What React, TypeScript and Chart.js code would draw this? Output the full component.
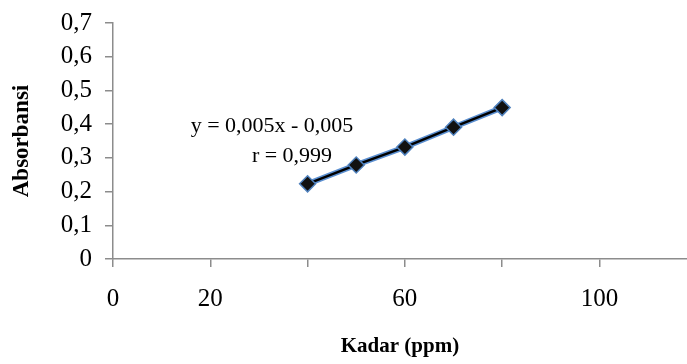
import React, { useEffect, useRef } from "react";
import { Chart, registerables } from "chart.js";

Chart.register(...registerables);

const kadar = [40, 50, 60, 70, 80];
const absorbansi = [0.223, 0.279, 0.332, 0.391, 0.449];
const xTicks = [0, 20, 40, 60, 80, 100];
const xTickLabels = ["0", "20", "", "60", "", "100"];
const yTicks = [0, 0.1, 0.2, 0.3, 0.4, 0.5, 0.6, 0.7];
const yTickLabels = ["0", "0,1", "0,2", "0,3", "0,4", "0,5", "0,6", "0,7"];
const equationLines = ["y = 0,005x - 0,005", "r = 0,999"];
const xTitle = "Kadar (ppm)";
const yTitle = "Absorbansi";

const FONT = "'Liberation Serif', 'Times New Roman', serif";

const equationPlugin = {
  id: "equation",
  afterDatasetsDraw(chart: any) {
    const ctx = chart.ctx;
    ctx.save();
    ctx.fillStyle = "#000";
    ctx.font = `22px ${FONT}`;
    ctx.textAlign = "center";
    ctx.textBaseline = "middle";
    ctx.fillText(equationLines[0], 272, 126);
    ctx.fillText(equationLines[1], 292, 156);
    ctx.restore();
  },
};

export default function App() {
  const ref = useRef<HTMLCanvasElement | null>(null);
  useEffect(() => {
    if (!ref.current) return;
    const points = kadar.map((x, i) => ({ x, y: absorbansi[i] }));
    const chart = new Chart(ref.current, {
      type: "scatter",
      data: {
        datasets: [
          {
            label: "Absorbansi",
            data: points,
            showLine: true,
            borderColor: "#000",
            borderWidth: 2.5,
            pointStyle: "rectRot",
            pointRadius: 8,
            pointBackgroundColor: "#111",
            pointBorderColor: "#4F81BD",
            pointBorderWidth: 1.5,
            order: 0,
          },
          {
            label: "outline",
            data: points,
            showLine: true,
            borderColor: "#5B8FD0",
            borderWidth: 5.5,
            pointRadius: 0,
            order: 1,
          },
        ],
      },
      options: {
        responsive: false,
        animation: false,
        layout: { autoPadding: false, padding: { top: 23, right: 0, left: 0, bottom: 0 } },
        plugins: { legend: { display: false }, tooltip: { enabled: false } },
        scales: {
          x: {
            type: "linear",
            min: 0,
            max: 118,
            afterBuildTicks: (scale: any) => {
              scale.ticks = xTicks.map((value) => ({ value }));
            },
            afterFit: (scale: any) => {
              scale.height = 105;
              scale.paddingLeft = 0;
              scale.paddingRight = 0;
            },
            grid: { drawOnChartArea: false, drawTicks: true, tickLength: 8, color: "#8c8c8c", lineWidth: 1.5 },
            border: { color: "#8c8c8c", width: 1.5 },
            ticks: {
              autoSkip: false,
              maxRotation: 0,
              padding: 17,
              color: "#000",
              font: { family: FONT, size: 25 },
              callback: (value: any) => {
                const i = xTicks.indexOf(Number(value));
                return i >= 0 ? xTickLabels[i] : "";
              },
            },
            title: {
              display: true,
              text: xTitle,
              color: "#000",
              font: { family: FONT, size: 21, weight: "bold" },
              padding: { top: 0, bottom: 5 },
            },
          },
          y: {
            type: "linear",
            min: 0,
            max: 0.7,
            afterBuildTicks: (scale: any) => {
              scale.ticks = yTicks.map((value) => ({ value }));
            },
            afterFit: (scale: any) => {
              scale.width = 113;
              scale.paddingTop = 0;
              scale.paddingBottom = 0;
            },
            grid: { drawOnChartArea: false, drawTicks: true, tickLength: 8, color: "#8c8c8c", lineWidth: 1.5 },
            border: { color: "#8c8c8c", width: 1.5 },
            ticks: {
              padding: 13,
              color: "#000",
              font: { family: FONT, size: 25 },
              callback: (value: any) => {
                const i = yTicks.findIndex((t) => Math.abs(t - Number(value)) < 1e-9);
                return i >= 0 ? yTickLabels[i] : "";
              },
            },
            title: {
              display: true,
              text: yTitle,
              color: "#000",
              font: { family: FONT, size: 23, weight: "bold" },
              padding: { top: 8, bottom: 0 },
            },
          },
        },
      },
      plugins: [equationPlugin],
    });
    return () => chart.destroy();
  }, []);
  return (
    <div style={{ position: "fixed", left: 0, top: 0, width: 687, height: 364, background: "#fff" }}>
      <canvas ref={ref} width={687} height={364} style={{ display: "block" }} />
    </div>
  );
}
